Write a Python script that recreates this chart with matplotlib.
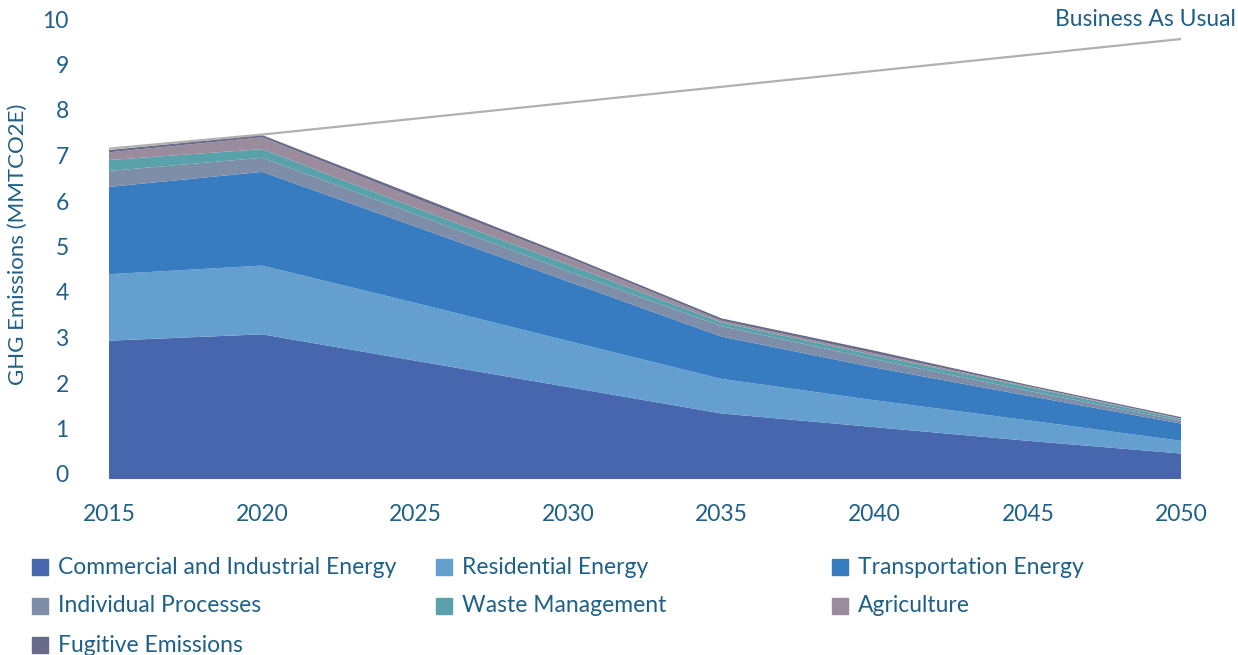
"""
Stacked area chart: GHG emissions by sector vs Business As Usual.
"""

import matplotlib
import matplotlib.pyplot as plt
import matplotlib.transforms as mtransforms
from matplotlib.patches import Rectangle

matplotlib.use("Agg")

plt.rcParams["font.family"] = ["Lato", "DejaVu Sans"]

years = [2015, 2020, 2025, 2030, 2035, 2040, 2045, 2050]

commercial_industrial = [3.04, 3.18, 2.60, 2.02, 1.44, 1.14, 0.84, 0.56]
residential = [1.46, 1.51, 1.27, 1.01, 0.76, 0.59, 0.45, 0.28]
transportation = [1.92, 2.06, 1.68, 1.31, 0.93, 0.72, 0.54, 0.38]
individual_processes = [0.35, 0.31, 0.27, 0.22, 0.23, 0.18, 0.11, 0.06]
waste_management = [0.24, 0.19, 0.14, 0.15, 0.08, 0.09, 0.08, 0.04]
agriculture = [0.17, 0.26, 0.21, 0.15, 0.04, 0.04, 0.02, 0.01]
fugitive = [0.05, 0.05, 0.07, 0.05, 0.05, 0.06, 0.03, 0.03]

business_as_usual = [7.26, 7.57, 7.92, 8.27, 8.62, 8.97, 9.32, 9.67]

labels = [
    "Commercial and Industrial Energy",
    "Residential Energy",
    "Transportation Energy",
    "Individual Processes",
    "Waste Management",
    "Agriculture",
    "Fugitive Emissions",
]
colors = ["#4866AE", "#659FD0", "#377BC1", "#7E8DA8", "#59A2AC", "#9B8C9D", "#686A89"]
series = [commercial_industrial, residential, transportation,
          individual_processes, waste_management, agriculture, fugitive]

TEXT = "#1F6089"

fig = plt.figure(figsize=(12.38, 6.55), dpi=100)
ax = fig.add_axes([109 / 1238, 1 - 479 / 655, 1072 / 1238, 455 / 655])

ax.stackplot(years, *series, colors=colors, linewidth=0)
ax.plot(years, business_as_usual, color="#B0B0B0", linewidth=1.6, zorder=1)

ax.set_xlim(2015, 2050)
ax.set_ylim(0, 10)
ax.set_xticks(years)
ax.set_yticks(range(0, 11))
ax.tick_params(length=0, labelsize=16.5, labelcolor=TEXT)
ax.tick_params(axis="y", pad=29)
ax.tick_params(axis="x", pad=18)
for s in ax.spines.values():
    s.set_visible(False)

# y labels sit a few pixels above their values in the original
lift = mtransforms.ScaledTranslation(0, 5 / 100, fig.dpi_scale_trans)
for lbl in ax.get_yticklabels():
    lbl.set_transform(lbl.get_transform() + lift)

fig.text(18 / 1238, 1 - 244 / 655, "GHG Emissions (MMTCO2E)", rotation=90,
         ha="center", va="center", fontsize=16, color=TEXT)
fig.text(1236 / 1238, 1 - 20 / 655, "Business As Usual", ha="right",
         va="center", fontsize=16.5, color=TEXT)

# legend laid out by hand to keep the uneven column spacing
col_x = [32, 436, 832]
row_y = [567, 606, 645]
for i, (lbl, col) in enumerate(zip(labels, colors)):
    cx, ry = col_x[i % 3], row_y[i // 3]
    fig.patches.append(Rectangle((cx / 1238, 1 - (ry + 8) / 655), 16 / 1238, 16 / 655,
                                 transform=fig.transFigure, color=col))
    fig.text((cx + 26) / 1238, 1 - ry / 655, lbl, ha="left", va="center",
             fontsize=16.5, color=TEXT)

fig.savefig("out.png", dpi=100)
